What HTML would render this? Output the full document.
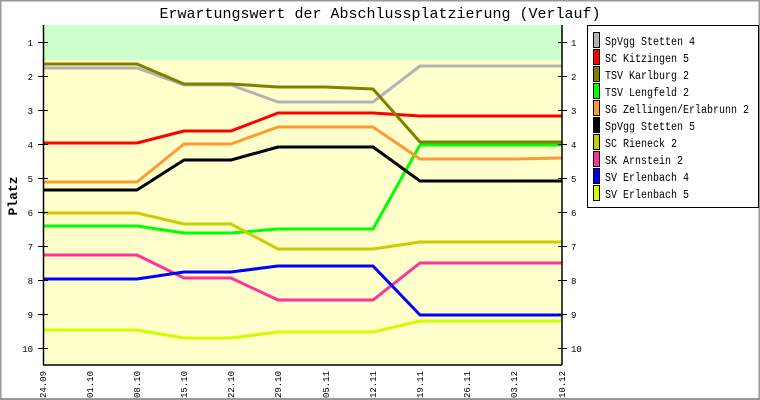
<!DOCTYPE html>
<html><head><meta charset="utf-8"><style>
html,body{margin:0;padding:0;background:#fff}
svg{display:block}
text{font-family:"Liberation Mono","DejaVu Sans Mono",monospace;fill:#000}
</style></head><body>
<svg width="760" height="400" xmlns="http://www.w3.org/2000/svg">
<rect x="0.5" y="0.5" width="759" height="398.5" fill="#fff" stroke="#999" stroke-width="2"/>
<text x="380" y="18" font-size="15" text-anchor="middle">Erwartungswert der Abschlussplatzierung (Verlauf)</text>
<rect x="43" y="25" width="519" height="340" fill="#ffffcc"/>
<rect x="43" y="25" width="519" height="35" fill="#ccffcc"/>
<g stroke-width="3" fill="none" stroke-linejoin="round">
<polyline stroke="#b3b3b3" points="43,68 137,68 184,85 231,85 278,102 373,102 420,66 562,66"/>
<polyline stroke="#ff0000" points="43,143 137,143 184,131 231,131 278,113 373,113 420,116 562,116"/>
<polyline stroke="#808000" points="43,64 137,64 184,84 231,84 278,87 325,87 373,89 420,142 562,142"/>
<polyline stroke="#00ff00" points="43,226 137,226 184,233 231,233 278,229 373,229 420,145 562,145"/>
<polyline stroke="#ff9933" points="43,182 137,182 184,144 231,144 278,127 373,127 420,159 515,159 562,158"/>
<polyline stroke="#000000" points="43,190 137,190 184,160 231,160 278,147 373,147 420,181 562,181"/>
<polyline stroke="#cccc00" points="43,213 137,213 184,224 231,224 278,249 373,249 420,242 562,242"/>
<polyline stroke="#ff3399" points="43,255 137,255 184,278 231,278 278,300 373,300 420,263 562,263"/>
<polyline stroke="#0000ff" points="43,279 137,279 184,272 231,272 278,266 373,266 420,315 562,315"/>
<polyline stroke="#ccff00" points="43,330 137,330 184,338 231,338 278,332 373,332 420,321 562,321"/>
</g>
<g stroke="#000" stroke-width="1.5" fill="none">
<line x1="43.5" y1="25" x2="43.5" y2="365"/>
<line x1="562" y1="25" x2="562" y2="365"/>
<line x1="43" y1="365" x2="562" y2="365"/>
</g>
<g stroke="#000" stroke-width="1">
<line x1="38" x2="48" y1="42.5" y2="42.5"/><line x1="38" x2="48" y1="76.5" y2="76.5"/><line x1="38" x2="48" y1="110.5" y2="110.5"/><line x1="38" x2="48" y1="144.5" y2="144.5"/><line x1="38" x2="48" y1="178.5" y2="178.5"/><line x1="38" x2="48" y1="212.5" y2="212.5"/><line x1="38" x2="48" y1="246.5" y2="246.5"/><line x1="38" x2="48" y1="280.5" y2="280.5"/><line x1="38" x2="48" y1="314.5" y2="314.5"/><line x1="38" x2="48" y1="348.5" y2="348.5"/>
<line x1="558" x2="567" y1="42.5" y2="42.5"/><line x1="558" x2="567" y1="76.5" y2="76.5"/><line x1="558" x2="567" y1="110.5" y2="110.5"/><line x1="558" x2="567" y1="144.5" y2="144.5"/><line x1="558" x2="567" y1="178.5" y2="178.5"/><line x1="558" x2="567" y1="212.5" y2="212.5"/><line x1="558" x2="567" y1="246.5" y2="246.5"/><line x1="558" x2="567" y1="280.5" y2="280.5"/><line x1="558" x2="567" y1="314.5" y2="314.5"/><line x1="558" x2="567" y1="348.5" y2="348.5"/>
</g>
<g font-size="9" text-anchor="end">
<text x="33" y="46">1</text><text x="33" y="80">2</text><text x="33" y="114">3</text><text x="33" y="148">4</text><text x="33" y="182">5</text><text x="33" y="216">6</text><text x="33" y="250">7</text><text x="33" y="284">8</text><text x="33" y="318">9</text><text x="33" y="352">10</text>
</g>
<g font-size="9">
<text x="571" y="46">1</text><text x="571" y="80">2</text><text x="571" y="114">3</text><text x="571" y="148">4</text><text x="571" y="182">5</text><text x="571" y="216">6</text><text x="571" y="250">7</text><text x="571" y="284">8</text><text x="571" y="318">9</text><text x="571" y="352">10</text>
</g>
<text transform="translate(17,196) rotate(-90)" font-size="13" font-weight="bold" text-anchor="middle">Platz</text>
<g font-size="9" text-anchor="end">
<text transform="translate(46,371) rotate(-90)">24.09</text>
<text transform="translate(93,371) rotate(-90)">01.10</text>
<text transform="translate(140,371) rotate(-90)">08.10</text>
<text transform="translate(187,371) rotate(-90)">15.10</text>
<text transform="translate(234,371) rotate(-90)">22.10</text>
<text transform="translate(281,371) rotate(-90)">29.10</text>
<text transform="translate(329,371) rotate(-90)">05.11</text>
<text transform="translate(376,371) rotate(-90)">12.11</text>
<text transform="translate(423,371) rotate(-90)">19.11</text>
<text transform="translate(470,371) rotate(-90)">26.11</text>
<text transform="translate(517,371) rotate(-90)">03.12</text>
<text transform="translate(565,371) rotate(-90)">10.12</text>
</g>
<rect x="587.5" y="25.5" width="171" height="182" fill="#fff" stroke="#000" stroke-width="1"/>
<g stroke="#000" stroke-width="1">
<rect x="593.5" y="32.5" width="6" height="15" fill="#b3b3b3"/>
<rect x="593.5" y="49.5" width="6" height="15" fill="#ff0000"/>
<rect x="593.5" y="66.5" width="6" height="15" fill="#808000"/>
<rect x="593.5" y="83.5" width="6" height="15" fill="#00ff00"/>
<rect x="593.5" y="100.5" width="6" height="15" fill="#ff9933"/>
<rect x="593.5" y="117.5" width="6" height="15" fill="#000000"/>
<rect x="593.5" y="134.5" width="6" height="15" fill="#cccc00"/>
<rect x="593.5" y="151.5" width="6" height="15" fill="#ff3399"/>
<rect x="593.5" y="168.5" width="6" height="15" fill="#0000ff"/>
<rect x="593.5" y="185.5" width="6" height="15" fill="#ccff00"/>
</g>
<g font-size="11.5" lengthAdjust="spacingAndGlyphs">
<text x="605" y="45" textLength="90" lengthAdjust="spacingAndGlyphs">SpVgg Stetten 4</text>
<text x="605" y="62" textLength="84" lengthAdjust="spacingAndGlyphs">SC Kitzingen 5</text>
<text x="605" y="79" textLength="84" lengthAdjust="spacingAndGlyphs">TSV Karlburg 2</text>
<text x="605" y="96" textLength="84" lengthAdjust="spacingAndGlyphs">TSV Lengfeld 2</text>
<text x="605" y="113" textLength="144" lengthAdjust="spacingAndGlyphs">SG Zellingen/Erlabrunn 2</text>
<text x="605" y="130" textLength="90" lengthAdjust="spacingAndGlyphs">SpVgg Stetten 5</text>
<text x="605" y="147" textLength="72" lengthAdjust="spacingAndGlyphs">SC Rieneck 2</text>
<text x="605" y="164" textLength="78" lengthAdjust="spacingAndGlyphs">SK Arnstein 2</text>
<text x="605" y="181" textLength="84" lengthAdjust="spacingAndGlyphs">SV Erlenbach 4</text>
<text x="605" y="198" textLength="84" lengthAdjust="spacingAndGlyphs">SV Erlenbach 5</text>
</g>
</svg>
</body></html>
